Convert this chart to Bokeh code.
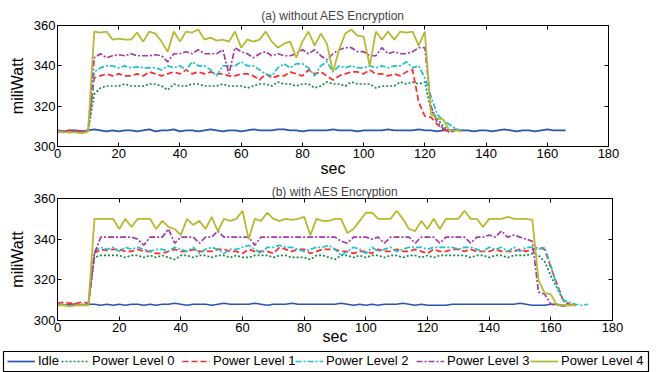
from bokeh.plotting import figure
from bokeh.models import (Range1d, FixedTicker, LinearAxis, Legend, LegendItem,
                          ColumnDataSource)
from bokeh.embed import file_html
from bokeh.resources import INLINE

# ---------------- data ----------------
times = list(range(0, 180, 2))  # sample times (s), one sample every 2 s
x_ticks = [0, 20, 40, 60, 80, 100, 120, 140, 160, 180]
y_ticks = [300, 320, 340, 360]
series_names = ["Idle", "Power Level 0", "Power Level 1", "Power Level 2",
                "Power Level 3", "Power Level 4"]

# (a) without AES encryption
idle_a = [308, 307.5, 308, 308, 307.5, 308, 308.5, 308, 307.5, 308,
          307.5, 308, 308, 307.5, 308, 308.5, 307.5, 308, 308, 308.5,
          307.5, 308, 308, 307.5, 308, 308.5, 308, 307.5, 308, 308,
          307.5, 308, 308.5, 308, 308, 308, 308.5, 308.5, 308, 308,
          307.5, 308, 308, 308, 308, 308.5, 308, 308, 308, 307.5,
          308, 308, 308, 308, 308.5, 308, 308, 308, 308, 308.5,
          308, 308, 307.5, 308, 308, 308.5, 308, 308, 307.5, 308,
          308, 307.5, 308, 308.5, 308, 307.5, 308, 308, 307.5, 308,
          308.5, 308, 308, 308]
pl0_a = [307.5, 307, 307.5, 307.5, 307, 307.5,
         326, 329, 330, 330, 330, 331, 330, 330, 330, 331,
         331, 330, 328, 331, 330, 330, 331, 331, 330, 330,
         330, 331, 330, 330, 330, 329, 330, 331, 331, 330,
         332, 331, 331, 330, 331, 331, 329, 330, 332, 331,
         331, 330, 332, 331, 331, 331, 329, 330, 330, 330,
         332, 331, 332, 331, 332,
         318, 314, 310, 308, 307.5]
pl1_a = [308, 307.5, 308, 307.5, 308, 307.5,
         334, 335, 336, 335, 336, 335, 335, 336, 335, 337,
         336, 335, 336, 337, 336, 338, 336, 337, 336, 337,
         336, 336, 335, 335, 336, 336, 335, 333, 336, 334,
         335, 335, 337, 336, 335, 338, 336, 337, 335, 333,
         335, 336, 337, 337, 336, 338, 336, 336, 335, 336,
         335, 337, 338,
         322, 315, 314.5, 311, 308.5, 307.5]
pl2_a = [307, 307.5, 307, 307.5, 307, 307.5,
         337, 339, 340, 340, 339, 340, 339, 339.5, 339, 339,
         339, 338, 340, 339, 340, 338, 342, 340, 340, 338,
         335, 340, 340, 340, 342, 340, 340, 338, 336, 335,
         339, 341, 339, 341, 341, 339, 335, 340, 342, 337,
         340, 339, 340, 339, 339, 340, 339, 340, 339, 340,
         340, 342, 339, 340,
         334, 325, 316, 313, 311, 309, 307.5]
pl3_a = [307.5, 307.5, 307, 307.5, 307.5, 307.5,
         344, 346, 344, 345, 345.5, 345, 346, 345, 345, 345,
         345.5, 345, 342, 346, 346, 347, 346, 348, 346, 346,
         346, 348, 336, 349, 347, 346, 344, 346, 347, 345,
         346, 345, 345, 346, 348, 346, 348, 345, 343, 346,
         348, 349, 349, 347, 347, 345, 345, 349, 346, 347,
         346, 346, 347, 349, 349,
         320, 312, 309, 307, 308]
pl4_a = [307.5, 307, 307, 307, 306.5, 307.5,
         357, 356.5, 357, 353, 353.5, 353, 353, 356.5, 352, 357,
         356, 352, 347, 357, 352, 357, 356.5, 358, 353, 354,
         352.5, 353, 352, 357, 349, 353, 352, 353, 357, 352,
         349, 351, 352, 344, 352, 357, 350, 356, 351, 337,
         348, 356, 358, 355, 354.5, 340, 357, 353, 357, 353,
         357, 356.5, 357, 350, 357,
         316, 314, 313.5, 308, 308, 307.5]

# (b) with AES encryption
idle_b = [308, 307.5, 308, 308, 307.5, 308, 308, 307.5, 308, 307.5,
          308, 307.5, 308, 308, 307.5, 308, 307.5, 308, 308, 308.5,
          308, 307.5, 308, 308, 308, 307.5, 308, 308.5, 308, 308,
          308, 308, 308.5, 308, 307.5, 308, 308, 308, 308.5, 308,
          308, 308, 308, 308, 308, 308, 308.5, 308, 307.5, 308,
          307.5, 308, 307.5, 308, 308, 308, 308.5, 308, 307.5, 308,
          307.5, 307.5, 307.5, 307.5, 308, 308, 308, 308, 308, 308,
          308, 308, 308, 308, 308, 308.5, 308, 307.5, 307.5, 307.5,
          308, 308, 307.5, 307.5]
pl0_b = [308, 308, 307.5, 308, 308, 308,
         331, 332, 332, 332, 332, 331, 332, 332, 331, 332,
         331, 332, 331, 330, 332, 332, 331, 332, 332, 331,
         332, 332, 331, 332, 331, 331, 332, 332, 332, 331,
         332, 332, 331, 331, 331, 330, 332, 332, 331, 330,
         332, 332, 331, 332, 331, 332, 332, 331, 332, 332,
         331, 332, 332, 331, 332, 331, 332, 332, 332, 332,
         332, 331, 332, 332, 331, 332, 332, 331, 332, 332,
         332, 333,
         332, 329, 322, 316, 310, 307.5, 307.5]
pl1_b = [308.5, 309, 308.5, 308.5, 309, 308.5,
         333, 335, 334.5, 335, 335, 334, 334, 335, 334, 334,
         333, 333, 334, 335, 334, 334, 335, 334, 334, 334,
         335, 335, 334, 334, 333, 335, 334, 334, 334, 333,
         336, 335, 334, 335, 335, 333, 334, 335, 335, 335,
         334, 334, 333, 334, 334, 333, 335, 334, 334, 335,
         334, 334, 335, 334, 333, 335, 334, 334, 335, 335,
         334, 335, 334, 334, 334, 335, 334, 334, 334, 335,
         334, 335,
         336, 335, 326, 318, 310, 308, 307.5]
pl2_b = [307.5, 308, 307.5, 308, 307.5, 308,
         334, 336, 335, 336, 334, 336, 335, 336, 335, 334,
         335, 335, 334, 336, 335, 334, 336, 333, 335, 336,
         335, 333, 335, 335, 336, 337, 335, 333, 336, 336,
         337, 336, 336, 335, 334, 335, 336, 336, 337, 335,
         332, 334, 336, 335, 333, 336, 334, 335, 336, 334,
         335, 336, 336, 336, 335, 336, 336, 336, 336, 335,
         336, 336, 335, 334, 336, 335, 336, 334, 336, 334,
         336, 336,
         335, 336, 327, 317, 310, 309, 308, 307.5, 308]
pl3_b = [307.5, 307.5, 307.5, 308, 307.5, 307.5,
         333, 341, 341, 341, 341, 341, 341, 340, 337, 341,
         341, 341, 345, 338, 341, 341, 341, 338, 341, 341,
         344, 341, 341, 341, 341, 341, 337, 341, 341, 341,
         341, 341, 341, 341, 341, 341, 341, 341, 341, 341,
         339, 338, 341, 341, 341, 340, 341, 338, 341, 341,
         341, 341, 338, 341, 341, 341, 338, 341, 341, 341,
         341, 338, 341, 341, 342, 341, 344, 341, 342, 341,
         340, 339,
         314, 313, 308, 307.5, 307, 307.5, 307.5]
pl4_b = [307.5, 307.5, 307, 307.5, 307.5, 307.5,
         350, 350, 350, 350, 345, 350, 346, 350, 350, 350,
         345, 349, 346, 345, 342, 350, 347, 349, 345, 351,
         344, 350, 349, 350, 354, 340, 350, 349, 353, 350,
         349, 350, 349.5, 350, 351, 342, 350, 349, 349, 350,
         350, 343, 345, 349, 353, 353, 350, 350, 350, 354,
         350, 345, 344, 349, 345, 350, 345, 350, 350, 350,
         354, 350, 350, 346, 350, 350, 350, 351, 350, 350,
         350, 349.5,
         320, 313.5, 313, 307.5, 307.5, 307.5, 307.5]

# ---------------- styles ----------------
colors = ["#2b54b3", "#138a4c", "#ff2b2b", "#1cc3cc", "#a33aa8", "#b8b832"]
dashes = ["solid", "2 2", "6 3", "6 2 2 2", "6 2 2 2", "solid"]
widths = [1.7, 1.7, 1.7, 1.7, 1.7, 1.8]
legend_x = [4, 58, 179, 292, 413, 527]   # legend item offsets (px)
FONT = "Liberation Sans"


def style_axis(ax, ticks, show_labels=True):
    ax.ticker = FixedTicker(ticks=ticks)
    ax.major_tick_in = 4
    ax.major_tick_out = 0
    ax.minor_tick_line_color = None
    ax.axis_line_color = "black"
    ax.major_tick_line_color = "black"
    ax.major_label_text_font = FONT
    ax.axis_label_text_font = FONT
    ax.axis_label_text_font_style = "normal"
    ax.axis_label_text_font_size = "16px"
    ax.axis_label_text_color = "black"
    if show_labels:
        ax.major_label_text_color = "black"
        ax.major_label_text_font_size = "13px"
        ax.major_label_standoff = 2
    else:
        ax.major_label_text_color = None
        ax.major_label_text_font_size = "1px"
        ax.major_label_standoff = 0


def make_panel(title, height, frame_top, b_bottom, b_right, t_standoff,
               xl_standoff, data):
    p = figure(width=660, height=height,
               x_range=Range1d(0, 180), y_range=Range1d(300, 360),
               output_backend="svg", toolbar_location=None,
               min_border_left=57, min_border_right=b_right,
               min_border_top=frame_top, min_border_bottom=b_bottom)
    p.title.text = title
    p.title.align = "center"
    p.title.text_font = FONT
    p.title.text_font_style = "normal"
    p.title.text_font_size = "12px"
    p.title.standoff = t_standoff
    p.outline_line_color = "black"
    p.outline_line_alpha = 1
    p.grid.visible = False

    style_axis(p.xaxis[0], x_ticks)
    style_axis(p.yaxis[0], y_ticks)
    p.xaxis.axis_label = "sec"
    p.yaxis.axis_label = "miliWatt"
    p.xaxis.axis_label_standoff = xl_standoff
    p.yaxis.axis_label_standoff = 5

    top = LinearAxis()
    style_axis(top, x_ticks, show_labels=False)
    right = LinearAxis()
    style_axis(right, y_ticks, show_labels=False)
    p.add_layout(top, "above")
    p.add_layout(right, "right")

    for vals, c, d, w in zip(data, colors, dashes, widths):
        p.line(times[:len(vals)], vals, line_color=c, line_dash=d, line_width=w)
    return p


# panel (a): frame y 25..146 ; panel (b): frame y 197..320 (page px)
pA = make_panel("(a) without AES Encryption", 182, 25, 36, 52, 6, -1,
                [idle_a, pl0_a, pl1_a, pl2_a, pl3_a, pl4_a])
pB = make_panel("(b) with AES Encryption", 168, 15, 30, 48, 0, -7,
                [idle_b, pl0_b, pl1_b, pl2_b, pl3_b, pl4_b])

# legend strip (its frame outline is the legend box)
pL = figure(width=650, height=22, x_range=Range1d(0, 1), y_range=Range1d(0, 1),
            output_backend="svg", toolbar_location=None,
            x_axis_location=None, y_axis_location=None,
            min_border_left=3, min_border_right=2, min_border_top=1,
            min_border_bottom=1)
pL.outline_line_color = "black"
pL.outline_line_width = 1.2
pL.grid.visible = False
all_a = [idle_a, pl0_a, pl1_a, pl2_a, pl3_a, pl4_a]
for name, c, d, w, lx, vals in zip(series_names, colors, dashes, widths,
                                   legend_x, all_a):
    # single off-range sample: draws nothing, only feeds the legend glyph
    src = ColumnDataSource(dict(x=[times[0]], y=[vals[0]]))
    r = pL.line(x="x", y="y", source=src, line_color=c, line_dash=d,
                line_width=w)
    leg = Legend(items=[LegendItem(label=name, renderers=[r])],
                 location=(lx, 3), orientation="horizontal",
                 border_line_color=None, background_fill_alpha=0,
                 padding=0, spacing=0, label_standoff=3, margin=0,
                 glyph_width=28, glyph_height=14, label_height=14,
                 label_text_font=FONT, label_text_font_size="13px",
                 label_text_color="black")
    pL.add_layout(leg, "center")

open("out.html", "w").write(file_html([pA, pB, pL], INLINE))
